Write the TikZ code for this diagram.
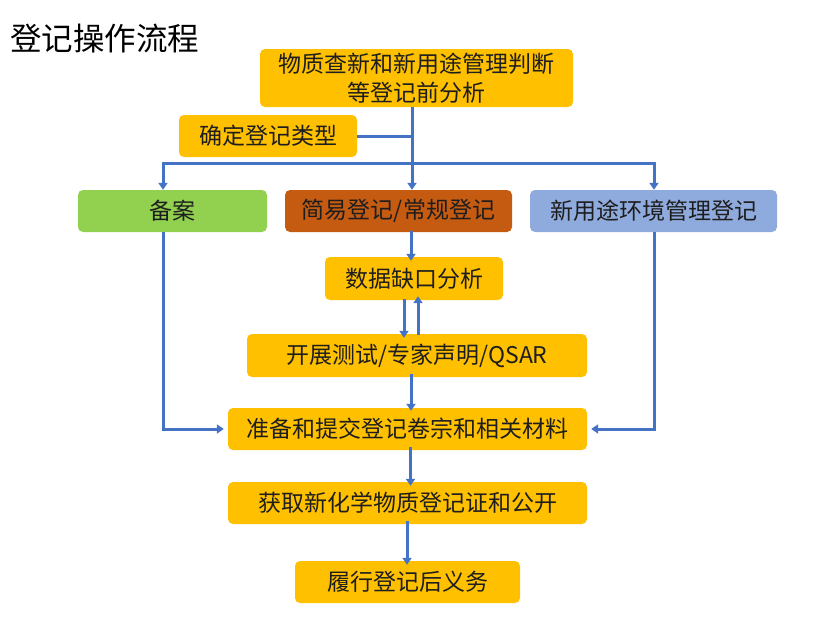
\documentclass[tikz,border=0pt]{standalone}
\usepackage{fontspec}
\setmainfont{Noto Sans CJK SC}
\newfontfamily\cjk{Noto Sans CJK SC}
\usetikzlibrary{arrows.meta}
\definecolor{ybox}{HTML}{FFC000}
\definecolor{gbox}{HTML}{92D050}
\definecolor{obox}{HTML}{C55A11}
\definecolor{bbox}{HTML}{8FAADC}
\definecolor{lnk}{HTML}{4472C4}
\definecolor{txt}{HTML}{1E1E1E}
\tikzset{
  boxy/.style={rounded corners=5pt, inner sep=0pt, align=center, text=txt,
    font=\cjk\fontsize{23}{27}\selectfont, anchor=center},
  arr/.style={draw=lnk, line width=3pt, -{Triangle[width=9pt,length=7pt]}},
  lnkline/.style={draw=lnk, line width=3pt},
}
\begin{document}
\begin{tikzpicture}[x=1pt,y=-1pt]
\useasboundingbox (0,0) rectangle (836,619);
\node[anchor=west, font=\cjk\fontsize{31.5}{35}\selectfont, text=black, inner sep=0pt] (title) at (10,39) {登记操作流程};

\node[boxy, fill=ybox, minimum width=313pt, minimum height=58pt] (top) at (416.5,78) {物质查新和新用途管理判断\\[2pt]等登记前分析};
\node[boxy, fill=ybox, minimum width=178pt, minimum height=42pt] (type) at (268,136) {确定登记类型};
\node[boxy, fill=gbox, minimum width=189pt, minimum height=42pt] (beian) at (172.5,211) {备案};
\node[boxy, fill=obox, minimum width=227pt, minimum height=42pt] (jianyi) at (398.5,211) {简易登记/常规登记};
\node[boxy, fill=bbox, minimum width=247pt, minimum height=42pt] (xinyong) at (653.5,211) {新用途环境管理登记};
\node[boxy, fill=ybox, minimum width=178pt, minimum height=43pt] (shuju) at (414,278.5) {数据缺口分析};
\node[boxy, fill=ybox, minimum width=340pt, minimum height=43pt] (kaizhan) at (417,355.5) {开展测试/专家声明/QSAR};
\node[boxy, fill=ybox, minimum width=359pt, minimum height=42pt] (zhunbei) at (407.5,429) {准备和提交登记卷宗和相关材料};
\node[boxy, fill=ybox, minimum width=359pt, minimum height=42pt] (huoqu) at (407.5,503) {获取新化学物质登记证和公开};
\node[boxy, fill=ybox, minimum width=225pt, minimum height=42pt] (lvxing) at (407.5,582) {履行登记后义务};

\coordinate (mainx) at (412,163);
\coordinate (leftx) at (163,163);
\coordinate (rightx) at (654,163);

% top to jianyi, with branch
\draw[arr] (top.south -| mainx) -- (jianyi.north -| mainx);
\draw[lnkline] (type.east) -- (type.east -| mainx);
\draw[lnkline, line cap=rect] (leftx) -- (rightx);
\draw[arr] (leftx) -- (beian.north -| leftx);
\draw[arr] (rightx) -- (xinyong.north -| rightx);

% middle chain
\coordinate (c1) at (411,0);
\draw[arr] ([yshift=1pt]jianyi.south -| c1) -- ([yshift=-4pt]shuju.north -| c1);
\coordinate (dn) at (404,0);
\coordinate (up) at (418,0);
\draw[arr] ([yshift=1pt]shuju.south -| dn) -- ([yshift=-4pt]kaizhan.north -| dn);
\draw[arr] ([yshift=-1pt]kaizhan.north -| up) -- ([yshift=4pt]shuju.south -| up);
\draw[arr] ([yshift=3pt]kaizhan.south -| c1) -- ([yshift=-3pt]zhunbei.north -| c1);

% side paths
\draw[arr] (beian.south -| leftx) |- ([xshift=-4pt]zhunbei.west);
\draw[arr] (xinyong.south -| rightx) |- ([xshift=4pt]zhunbei.east);

% bottom chain
\coordinate (c2) at (410.5,0);
\coordinate (c3) at (407,0);
\draw[arr] ([yshift=3pt]zhunbei.south -| c2) -- ([yshift=-4pt]huoqu.north -| c2);
\draw[arr] ([yshift=3pt]huoqu.south -| c3) -- ([yshift=-4pt]lvxing.north -| c3);
\end{tikzpicture}
\end{document}
